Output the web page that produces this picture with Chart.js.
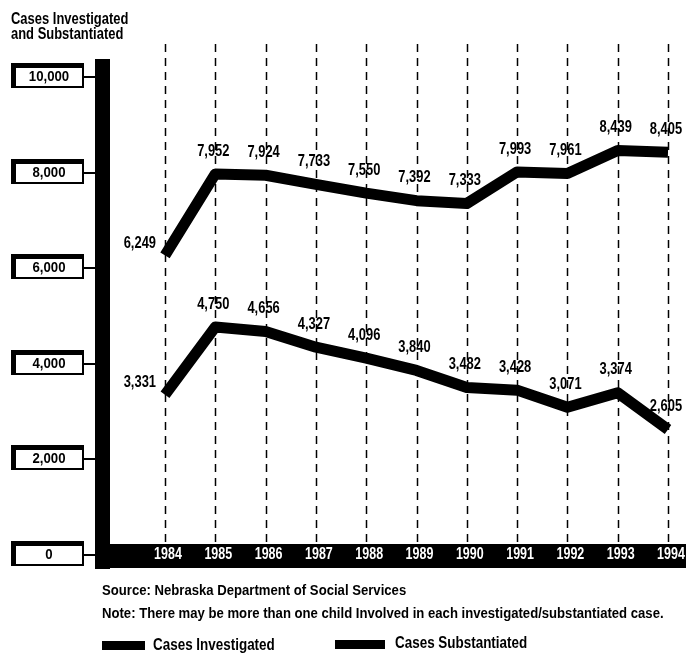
<!DOCTYPE html>
<html>
<head>
<meta charset="utf-8">
<script src="https://cdn.jsdelivr.net/npm/chart.js@4"></script>
<style>
  body { margin: 0; background: #fff; }
  #wrap { position: relative; width: 686px; height: 654px; overflow: hidden; }
  #casesChart { position: absolute; left: 0; top: 0; }
  .txt { position: absolute; font-family: "Liberation Sans", Arial, sans-serif; font-weight: bold; color: #000; white-space: nowrap; transform-origin: 0 0; }
  .title { left: 11px; top: 11px; font-size: 16px; line-height: 15px; transform: scaleX(0.81); }
  .note { left: 102px; font-size: 15px; line-height: 17px; transform: scaleX(0.875); }
  .legend { font-size: 16px; line-height: 18px; transform: scaleX(0.84); }
  .swatch { position: absolute; height: 9px; background: #000; }
</style>
</head>
<body>
<div id="wrap">
  <canvas id="casesChart" width="686" height="654"></canvas>
  <div class="txt title">Cases Investigated<br>and Substantiated</div>
  <div class="txt note" style="top:581px">Source: Nebraska Department of Social Services</div>
  <div class="txt note" style="top:604px">Note: There may be more than one child Involved in each investigated/substantiated case.</div>
  <div class="swatch" style="left:102px; top:641px; width:43px"></div>
  <div class="txt legend" style="left:153px; top:636px">Cases Investigated</div>
  <div class="swatch" style="left:335px; top:640px; width:50px"></div>
  <div class="txt legend" style="left:395px; top:634px">Cases Substantiated</div>
</div>
<script>
const years = ['1984', '1985', '1986', '1987', '1988', '1989', '1990', '1991', '1992', '1993', '1994'];
const casesInvestigated = [6249, 7952, 7924, 7733, 7550, 7392, 7333, 7993, 7961, 8439, 8405];
const casesSubstantiated = [3331, 4750, 4656, 4327, 4096, 3840, 3482, 3428, 3071, 3374, 2605];
const yTicks = [0, 2000, 4000, 6000, 8000, 10000];

const FONT = '"Liberation Sans", Arial, sans-serif';

// condensed bold text: squeeze horizontally around the anchor
function narrowText(ctx, text, x, y, size, sx, align) {
    ctx.save();
    ctx.translate(x, y);
    ctx.scale(sx, 1);
    ctx.font = 'bold ' + size + 'px ' + FONT;
    ctx.textAlign = align;
    ctx.textBaseline = 'middle';
    ctx.fillText(text, 0, 0);
    ctx.restore();
}

// thick black axis bars, boxed tick labels, dashed year lines
const frameDecor = {
    id: 'frameDecor',
    beforeDatasetsDraw(chart) {
        const ctx = chart.ctx;
        const x = chart.scales.x;
        const y = chart.scales.y;
        const zeroY = y.getPixelForValue(0);

        ctx.save();
        // dashed vertical lines at each year
        ctx.strokeStyle = '#000';
        ctx.lineWidth = 1.5;
        ctx.setLineDash([8, 6]);
        years.forEach((yr, i) => {
            const px = Math.round(x.getPixelForValue(i)) + 0.5;
            ctx.beginPath();
            ctx.moveTo(px, 44);
            ctx.lineTo(px, zeroY - 12);
            ctx.stroke();
        });
        ctx.setLineDash([]);

        // left bar and bottom bar
        ctx.fillStyle = '#000';
        ctx.fillRect(95, 59, 15, zeroY + 15 - 59);
        ctx.fillRect(95, zeroY - 10, 591, 24);

        // year labels in white on the bottom bar
        ctx.fillStyle = '#fff';
        years.forEach((yr, i) => {
            narrowText(ctx, yr, x.getPixelForValue(i) + 3, zeroY + 1, 16, 0.78, 'center');
        });

        // boxed y tick labels with connector to the bar
        yTicks.forEach(t => {
            const py = Math.round(y.getPixelForValue(t));
            ctx.fillStyle = '#000';
            ctx.fillRect(11, py - 13, 73, 25);
            ctx.fillStyle = '#fff';
            ctx.fillRect(16, py - 8, 66, 18);
            ctx.fillStyle = '#000';
            ctx.fillRect(84, py, 11, 2);
            narrowText(ctx, t.toLocaleString('en-US'), 49, py + 1, 15, 0.88, 'center');
        });
        ctx.restore();
    },
    afterDatasetsDraw(chart) {
        const ctx = chart.ctx;
        ctx.save();
        ctx.fillStyle = '#000';
        chart.data.datasets.forEach((ds, d) => {
            chart.getDatasetMeta(d).data.forEach((pt, i) => {
                const label = ds.data[i].toLocaleString('en-US');
                if (i === 0) {
                    narrowText(ctx, label, pt.x - 9, pt.y - 12, 17, 0.76, 'right');
                } else {
                    narrowText(ctx, label, pt.x - 2, pt.y - 23, 17, 0.76, 'center');
                }
            });
        });
        ctx.restore();
    }
};

const ctx = document.getElementById('casesChart').getContext('2d');
const casesChart = new Chart(ctx, {
    type: 'line',
    data: {
        labels: years,
        datasets: [{
            label: 'Cases Investigated',
            data: casesInvestigated,
            borderColor: '#000',
            backgroundColor: '#000',
            borderWidth: 11,
            borderJoinStyle: 'round',
            pointRadius: 0,
            tension: 0
        }, {
            label: 'Cases Substantiated',
            data: casesSubstantiated,
            borderColor: '#000',
            backgroundColor: '#000',
            borderWidth: 11,
            borderJoinStyle: 'round',
            pointRadius: 0,
            tension: 0
        }]
    },
    options: {
        responsive: false,
        animation: false,
        layout: {
            padding: { left: 165, right: 18, top: 76, bottom: 100 }
        },
        scales: {
            x: { display: false, offset: false },
            y: { display: false, min: 0, max: 10000 }
        },
        plugins: {
            legend: { display: false },
            tooltip: { enabled: false }
        }
    },
    plugins: [frameDecor]
});
</script>
</body>
</html>
